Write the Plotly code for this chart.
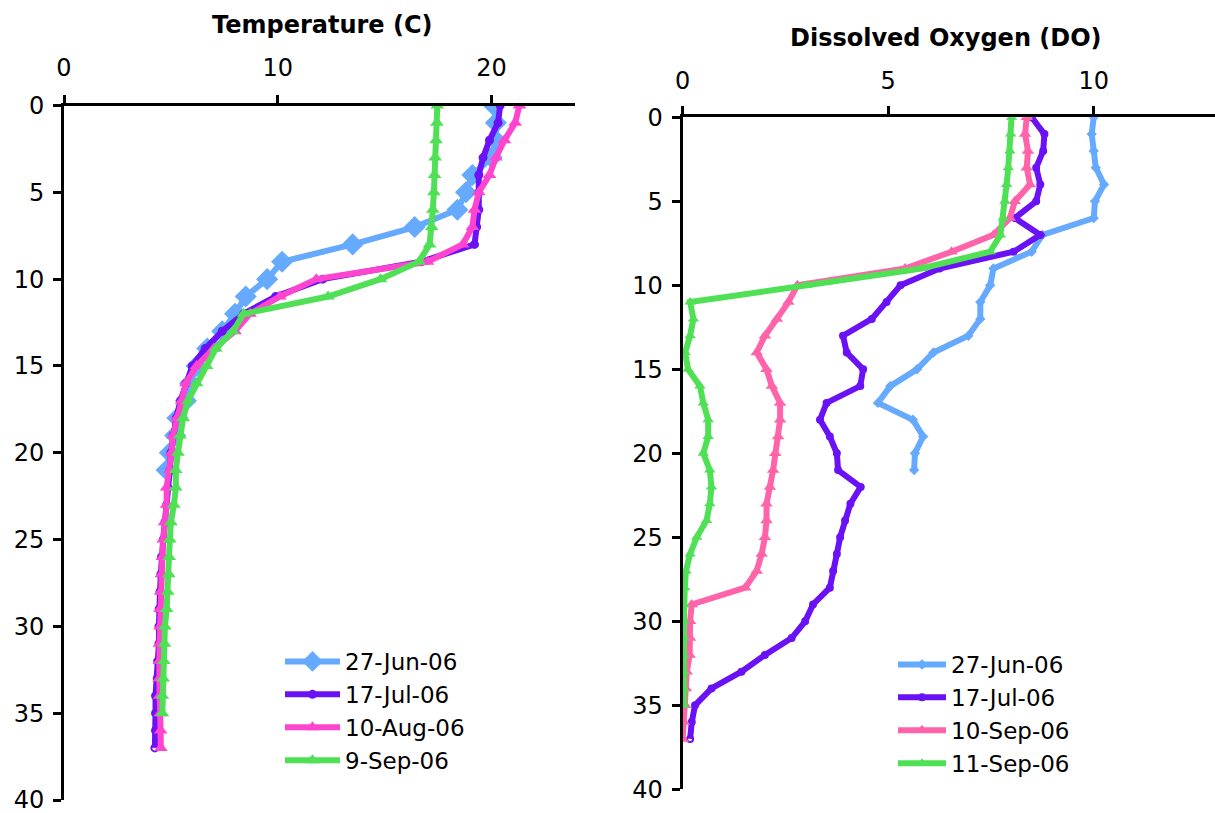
import plotly.graph_objects as go

# ---------------- Temperature panel data ----------------
temp_jun_depth = list(range(0, 22))
temp_jun = [20.1, 20.2, 20.2, 20.0, 19.1, 18.8, 18.4, 16.4, 13.5, 10.2, 9.5,
            8.5, 8.0, 7.4, 6.7, 6.2, 5.9, 5.7, 5.3, 5.2, 4.95, 4.8]

temp_jul_depth = list(range(0, 38))
temp_jul = [20.4, 20.3, 19.9, 19.6, 19.4, 19.4, 19.4, 19.3, 19.2, 16.7, 12.1,
            9.9, 8.4, 7.4, 6.6, 6.0, 5.7, 5.45, 5.25, 5.1, 5.0, 4.95, 4.85,
            4.8, 4.72, 4.64, 4.56, 4.53, 4.49, 4.45, 4.44, 4.44, 4.38, 4.36,
            4.28, 4.28, 4.28, 4.25]

temp_aug_depth = list(range(0, 38))
temp_aug = [21.3, 21.1, 20.6, 20.2, 19.9, 19.4, 19.2, 19.1, 18.65, 17.0, 11.8,
            10.1, 8.7, 8.0, 7.0, 6.2, 5.7, 5.5, 5.27, 5.1, 5.03, 4.95, 4.8,
            4.8, 4.7, 4.64, 4.6, 4.56, 4.52, 4.49, 4.49, 4.47, 4.46, 4.45,
            4.47, 4.5, 4.52, 4.53]

temp_sep_depth = list(range(0, 36))
temp_sep = [17.46, 17.44, 17.4, 17.36, 17.33, 17.3, 17.25, 17.2, 17.1, 16.6,
            14.8, 12.35, 8.4, 7.9, 7.1, 6.67, 6.2, 5.8, 5.57, 5.42, 5.33,
            5.23, 5.23, 5.14, 5.0, 4.95, 4.92, 4.9, 4.85, 4.8, 4.72, 4.7,
            4.67, 4.64, 4.6, 4.6]

temp_names = ["27-Jun-06", "17-Jul-06", "10-Aug-06", "9-Sep-06"]

# ---------------- Dissolved oxygen panel data ----------------
do_jun_depth = list(range(0, 22))
do_jun = [10.0, 9.95, 10.0, 10.05, 10.25, 10.03, 10.0, 8.75, 8.49, 7.56, 7.48,
          7.24, 7.24, 6.95, 6.1, 5.7, 5.05, 4.75, 5.6, 5.85, 5.65, 5.63]

do_jul_depth = list(range(0, 38))
do_jul = [8.49, 8.8, 8.77, 8.6, 8.7, 8.6, 8.08, 8.7, 8.05, 6.25, 5.3, 4.96,
          4.6, 3.9, 3.99, 4.39, 4.32, 3.5, 3.34, 3.58, 3.75, 3.78, 4.33,
          4.08, 3.95, 3.83, 3.75, 3.66, 3.58, 3.17, 2.98, 2.65, 2.0, 1.43,
          0.7, 0.3, 0.22, 0.18]

do_sep10_depth = list(range(0, 38))
do_sep10 = [8.37, 8.33, 8.4, 8.37, 8.45, 8.08, 7.96, 7.56, 6.54, 5.41, 2.79,
            2.57, 2.29, 2.0, 1.8, 2.04, 2.17, 2.37, 2.37, 2.32, 2.25, 2.2,
            2.12, 2.04, 2.04, 2.0, 1.92, 1.8, 1.52, 0.22, 0.18, 0.18, 0.17,
            0.1, 0.08, 0.06, 0.03, 0.0]

do_sep11_depth = list(range(0, 36))
do_sep11 = [8.0, 7.98, 7.96, 7.92, 7.88, 7.84, 7.8, 7.73, 7.48, 5.81, 3.02,
            0.18, 0.26, 0.18, 0.06, 0.13, 0.42, 0.5, 0.62, 0.62, 0.5, 0.66,
            0.7, 0.66, 0.58, 0.34, 0.18, 0.08, 0.05, 0.03, 0.03, 0.03, 0.03,
            0.03, 0.03, 0.03]

do_names = ["27-Jun-06", "17-Jul-06", "10-Sep-06", "11-Sep-06"]

temp_ticks = [0, 10, 20]
do_ticks = [0, 5, 10]
depth_ticks = [0, 5, 10, 15, 20, 25, 30, 35, 40]

BLUE = "#66AAFF"
PURPLE = "#6A12F5"
PINK_L = "#FF44D0"
PINK_R = "#FF64AA"
GREEN = "#4FE055"

FONT = "DejaVu Sans"

fig = go.Figure()

temp_style = [
    (BLUE, dict(symbol="diamond", size=17, color=BLUE)),
    (PURPLE, dict(symbol="circle-open", size=7, color=PURPLE, line=dict(width=2, color=PURPLE))),
    (PINK_L, dict(symbol="triangle-up", size=12, color=PINK_L)),
    (GREEN, dict(symbol="triangle-up", size=12, color=GREEN)),
]
for (xs, ys), name, (col, mk) in zip(
    [(temp_jun, temp_jun_depth), (temp_jul, temp_jul_depth),
     (temp_aug, temp_aug_depth), (temp_sep, temp_sep_depth)],
    temp_names, temp_style):
    fig.add_trace(go.Scatter(x=xs, y=ys, name=name, mode="lines+markers",
                             line=dict(color=col, width=6), marker=mk,
                             xaxis="x", yaxis="y", legend="legend"))

do_style = [
    (BLUE, dict(symbol="diamond", size=8, color=BLUE)),
    (PURPLE, dict(symbol="circle-open", size=6, color=PURPLE, line=dict(width=2, color=PURPLE))),
    (PINK_R, dict(symbol="triangle-up", size=11, color=PINK_R)),
    (GREEN, dict(symbol="triangle-up", size=10, color=GREEN)),
]
for (xs, ys), name, (col, mk) in zip(
    [(do_jun, do_jun_depth), (do_jul, do_jul_depth),
     (do_sep10, do_sep10_depth), (do_sep11, do_sep11_depth)],
    do_names, do_style):
    fig.add_trace(go.Scatter(x=xs, y=ys, name=name, mode="lines+markers",
                             line=dict(color=col, width=6), marker=mk,
                             xaxis="x2", yaxis="y2", legend="legend2"))

W, H = 1215, 813

axis_common = dict(showgrid=False, zeroline=False, showline=True,
                   linecolor="black", linewidth=3, ticks="outside",
                   tickwidth=3, ticklen=8, tickcolor="black", automargin=False,
                   ticklabeloverflow="allow",
                   tickfont=dict(family=FONT, size=24, color="black"))

fig.update_layout(
    width=W, height=H,
    margin=dict(l=0, r=0, t=0, b=0, autoexpand=False),
    paper_bgcolor="white", plot_bgcolor="white",
    font=dict(family=FONT, color="black"),
    xaxis=dict(domain=[64 / W, 575 / W], range=[0, 23.9], side="top",
               tickvals=temp_ticks, anchor="y", ticklabelstandoff=9,
               **axis_common),
    yaxis=dict(domain=[1 - 800 / H, 1 - 105.5 / H], range=[40, 0],
               tickvals=depth_ticks, anchor="x", ticklabelstandoff=4,
               **axis_common),
    xaxis2=dict(domain=[682.7 / W, 1.0], range=[0, 12.95], side="top",
                tickvals=do_ticks, anchor="y2", ticklabelstandoff=8,
                **axis_common),
    yaxis2=dict(domain=[1 - 789.3 / H, 1 - 117.3 / H], range=[40, 0],
                tickvals=depth_ticks, anchor="x2", ticklabelstandoff=4,
                **axis_common),
    legend=dict(x=280 / W, y=1 - 640 / H, xanchor="left", yanchor="top",
                bgcolor="rgba(0,0,0,0)", itemwidth=55,
                font=dict(family=FONT, size=23, color="black")),
    legend2=dict(x=893 / W, y=1 - 643 / H, xanchor="left", yanchor="top",
                 bgcolor="rgba(0,0,0,0)", itemwidth=48,
                 font=dict(family=FONT, size=23, color="black")),
    annotations=[
        dict(text="<b>Temperature (C)</b>", x=322 / W, y=1 - 25 / H,
             xref="paper", yref="paper", showarrow=False,
             xanchor="center", yanchor="middle",
             font=dict(family=FONT, size=24, color="black")),
        dict(text="<b>Dissolved Oxygen (DO)</b>", x=946 / W, y=1 - 38 / H,
             xref="paper", yref="paper", showarrow=False,
             xanchor="center", yanchor="middle",
             font=dict(family=FONT, size=24, color="black")),
    ],
)

fig.write_html("out.html")
